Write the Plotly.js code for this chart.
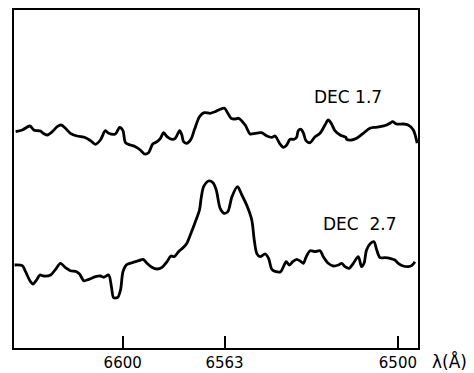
<!DOCTYPE html>
<html>
<head>
<meta charset="utf-8">
<script src="https://cdn.plot.ly/plotly-3.0.1.min.js"></script>
<style>html,body{margin:0;padding:0;background:#fff;}#chart{width:474px;height:373px;}</style>
</head>
<body>
<div id="chart"></div>
<script>
// Wavelength (Angstrom) and relative intensity
const wlDec17 = [6638.9,6636.5,6633.7,6632.3,6631.1,6629.9,6628.9,6627.4,6625.6,6623.8,6622.4,6620.8,6619.0,6616.6,6613.5,6611.7,6609.9,6608.1,6606.3,6605.1,6602.7,6601.1,6599.9,6599.0,6597.2,6595.4,6593.6,6592.1,6590.6,6589.1,6587.5,6586.3,6585.1,6583.9,6582.1,6580.9,6579.3,6578.5,6577.9,6576.7,6575.2,6573.9,6572.1,6570.4,6568.2,6566.4,6564.6,6563.0,6561.8,6560.6,6559.1,6557.9,6555.5,6553.7,6551.9,6549.5,6547.6,6545.8,6544.6,6543.0,6541.6,6540.4,6539.2,6537.7,6536.8,6536.2,6535.2,6534.3,6533.4,6531.9,6530.1,6528.3,6526.5,6525.3,6524.1,6522.9,6521.0,6520.1,6518.9,6518.6,6516.8,6515.0,6512.6,6510.2,6508.3,6506.5,6504.1,6502.9,6501.9,6500.5,6498.1,6496.3,6494.4,6493.0];
const fluxDec17 = [21.83,22.0,22.4,22.0,21.93,21.9,21.67,21.5,21.83,22.33,22.5,22.17,21.67,21.4,21.23,20.93,20.57,21.0,21.93,21.67,21.6,22.27,21.93,20.73,20.5,20.33,20.0,19.6,19.73,20.6,20.83,21.17,21.73,21.33,21.07,21.17,21.93,21.5,20.83,20.67,21.07,22.07,23.33,23.73,23.67,23.83,24.07,24.17,23.67,23.17,23.1,23.17,22.5,21.6,21.67,21.73,21.4,21.27,21.4,20.67,20.27,20.5,21.07,21.07,21.27,21.93,22.07,21.67,20.93,20.73,21.33,21.67,22.5,23.0,22.6,21.93,21.5,21.4,21.27,21.07,21.0,21.17,21.67,22.17,22.27,22.33,22.5,22.67,22.83,22.6,22.6,22.5,22.0,20.67];

const wlDec27 = [6639.3,6636.5,6635.3,6633.5,6632.6,6631.3,6630.1,6628.7,6626.2,6624.4,6622.6,6620.8,6619.0,6616.8,6615.7,6614.1,6612.3,6609.9,6608.1,6606.9,6605.1,6604.1,6603.3,6601.8,6600.8,6599.9,6598.7,6596.6,6594.2,6592.6,6591.2,6589.4,6587.5,6585.7,6583.9,6582.5,6581.3,6579.7,6577.9,6576.7,6575.2,6573.6,6572.1,6571.5,6570.6,6568.8,6567.2,6566.0,6564.6,6563.1,6561.8,6560.3,6558.3,6556.7,6554.7,6553.1,6552.2,6551.3,6550.1,6548.2,6547.0,6545.8,6544.3,6542.6,6541.6,6540.6,6539.4,6538.2,6536.8,6535.5,6534.3,6533.4,6531.9,6530.1,6528.3,6527.1,6525.3,6523.5,6521.6,6520.4,6519.2,6517.7,6516.2,6514.4,6513.2,6512.3,6511.4,6509.9,6508.7,6507.7,6506.5,6504.7,6502.9,6501.1,6499.9,6498.1,6496.3,6495.0,6493.8];
const fluxDec27 = [8.5,8.43,7.83,6.83,6.6,7.0,7.5,7.4,7.5,8.07,8.67,8.23,7.93,7.83,7.6,6.93,7.07,7.33,7.4,7.27,7.5,6.33,5.23,5.27,6.0,7.83,8.5,8.73,8.93,9.07,8.67,8.27,8.1,8.27,8.83,9.4,9.33,9.83,10.27,10.67,11.67,12.83,14.0,15.17,16.33,16.9,16.73,16.0,14.17,13.67,13.83,15.33,16.33,15.5,14.33,13.0,11.0,9.67,9.33,9.6,9.17,8.07,7.83,7.83,8.33,8.83,8.5,8.83,9.07,8.9,8.67,9.27,9.93,9.83,9.93,9.33,8.67,8.4,8.5,8.67,8.33,8.17,8.67,9.33,8.33,8.67,10.0,10.67,10.83,10.0,9.23,9.23,9.17,9.0,8.67,8.4,8.33,8.43,8.83];

const tickVals = [6600, 6563, 6500];
const tickText = ['6600', '6563', '6500'];
const seriesLabels = ['DEC 1.7', 'DEC\u00a0\u00a02.7'];

const lineStyle = {color: '#000', width: 2.8, shape: 'spline', smoothing: 0.8};

const data = [
  {x: wlDec17, y: fluxDec17, type: 'scatter', mode: 'lines', line: lineStyle, hoverinfo: 'skip'},
  {x: wlDec27, y: fluxDec27, type: 'scatter', mode: 'lines', line: lineStyle, hoverinfo: 'skip'}
];

const layout = {
  width: 474, height: 373,
  margin: {l: 14, r: 56, t: 10, b: 25, pad: 0},
  paper_bgcolor: '#fff', plot_bgcolor: '#fff',
  showlegend: false,
  font: {family: 'DejaVu Sans, sans-serif', color: '#000', size: 17},
  xaxis: {
    range: [6639.5, 6492.7],
    showgrid: false, zeroline: false,
    showline: true, linecolor: '#000', linewidth: 2, mirror: true,
    ticks: 'inside', ticklen: 12, tickwidth: 2, tickcolor: '#000',
    tickvals: tickVals, ticktext: tickText,
    tickfont: {family: 'DejaVu Sans, sans-serif', size: 15, color: '#000'}
  },
  yaxis: {
    range: [0.2, 34],
    showgrid: false, zeroline: false,
    showline: true, linecolor: '#000', linewidth: 2, mirror: true,
    ticks: '', showticklabels: false
  },
  annotations: [
    {text: seriesLabels[0], xref: 'paper', yref: 'paper', x: 0.827, y: 0.743, showarrow: false,
     xanchor: 'center', yanchor: 'middle', font: {size: 17, color: '#000'}},
    {text: seriesLabels[1], xref: 'paper', yref: 'paper', x: 0.856, y: 0.367, showarrow: false,
     xanchor: 'center', yanchor: 'middle', font: {size: 17, color: '#000'}},
    {text: 'λ(Å)', xref: 'paper', yref: 'paper', x: 1.03, y: -0.04, showarrow: false,
     xanchor: 'left', yanchor: 'middle', font: {size: 17, color: '#000'}}
  ]
};

Plotly.newPlot('chart', data, layout, {staticPlot: true, displayModeBar: false});
</script>
</body>
</html>
